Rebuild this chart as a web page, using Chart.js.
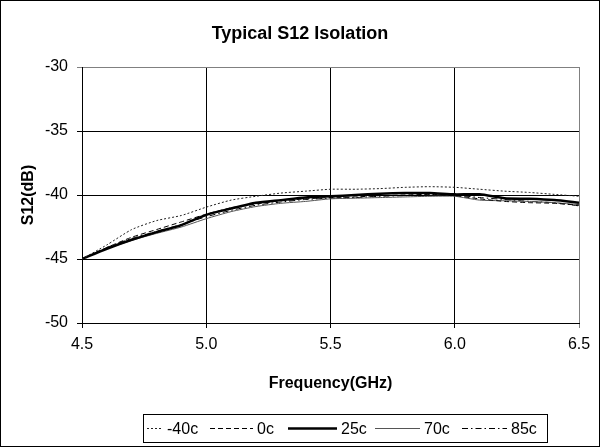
<!DOCTYPE html>
<html>
<head>
<meta charset="utf-8">
<script src="https://cdn.jsdelivr.net/npm/chart.js@4.4.1/dist/chart.umd.min.js"></script>
<style>
  html, body { margin: 0; padding: 0; background: #fff; }
  canvas { display: block; }
</style>
</head>
<body>
<canvas id="chart" width="600" height="447"></canvas>
<script>
// frecuencias (GHz) y curvas S12 (dB)
const freq = [4.5, 4.6, 4.7, 4.8, 4.9, 5.0, 5.1, 5.2, 5.3, 5.4, 5.5, 5.6, 5.7, 5.8, 5.9, 6.0, 6.1, 6.2, 6.3, 6.4, 6.5];
const seriesNames = ['-40c', '0c', '25c', '70c', '85c'];
const sM40 = [-45.0, -43.9, -42.7, -42.0, -41.6, -40.95, -40.4, -40.1, -39.85, -39.7, -39.55, -39.55, -39.5, -39.4, -39.35, -39.4, -39.55, -39.7, -39.8, -39.95, -40.1];
const s0 = [-45.0, -44.1, -43.3, -42.7, -42.1, -41.5, -41.0, -40.7, -40.45, -40.3, -40.2, -40.15, -40.05, -40.0, -39.95, -40.05, -40.3, -40.5, -40.6, -40.65, -40.8];
const s25 = [-45.0, -44.2, -43.5, -42.9, -42.35, -41.55, -41.05, -40.6, -40.4, -40.2, -40.1, -40.0, -39.9, -39.85, -39.85, -39.95, -39.95, -40.25, -40.3, -40.4, -40.6];
const s70 = [-45.0, -44.2, -43.55, -43.0, -42.5, -41.85, -41.3, -40.9, -40.65, -40.5, -40.3, -40.25, -40.2, -40.15, -40.1, -40.1, -40.4, -40.45, -40.5, -40.6, -40.75];
const s85 = [-45.0, -44.1, -43.4, -42.85, -42.3, -41.7, -41.2, -40.8, -40.55, -40.35, -40.25, -40.2, -40.1, -40.05, -40.0, -40.0, -40.2, -40.35, -40.5, -40.6, -40.85];
const xTicks = [4.5, 5.0, 5.5, 6.0, 6.5];
const yTicks = [-50, -45, -40, -35, -30];

const FONT = "'Liberation Sans', Arial, sans-serif";

const puntos = vals => freq.map((f, i) => ({ x: f, y: vals[i] }));

// estilos de linea de cada temperatura
const estilos = [
  { color: '#222', width: 1, dash: [2, 2] },
  { color: '#000', width: 1, dash: [5, 3] },
  { color: '#000', width: 2.5, dash: [] },
  { color: '#555', width: 1, dash: [] },
  { color: '#000', width: 1, dash: [6, 3, 1.5, 3] }
];
const valores = [sM40, s0, s25, s70, s85];

const datasets = seriesNames.map((name, i) => ({
  label: name,
  data: puntos(valores[i]),
  borderColor: estilos[i].color,
  borderWidth: estilos[i].width,
  borderDash: estilos[i].dash,
  pointRadius: 0,
  tension: 0.2,
  fill: false,
  yAxisID: 'y'
}));

// fondo blanco, marco exterior y leyenda con caja
const marcoPlugin = {
  id: 'marco',
  beforeDraw(chart) {
    const ctx = chart.ctx;
    ctx.save();
    ctx.fillStyle = '#fff';
    ctx.fillRect(0, 0, chart.width, chart.height);
    ctx.restore();
  },
  afterDraw(chart) {
    const ctx = chart.ctx;
    ctx.save();
    ctx.strokeStyle = '#000';
    ctx.lineWidth = 1;
    ctx.strokeRect(0.5, 0.5, chart.width - 1, chart.height - 1);

    // leyenda
    ctx.strokeRect(143.5, 414.5, 404, 28);
    const inicio = [147, 210, 288, 375, 462];
    const fin = [163, 253, 337, 420, 507];
    const yMid = 428.5;
    ctx.font = '16px ' + FONT;
    ctx.textBaseline = 'middle';
    ctx.textAlign = 'left';
    chart.data.datasets.forEach((ds, i) => {
      ctx.beginPath();
      ctx.strokeStyle = ds.borderColor;
      ctx.lineWidth = ds.borderWidth;
      ctx.setLineDash(ds.borderDash || []);
      ctx.moveTo(inicio[i], yMid);
      ctx.lineTo(fin[i], yMid);
      ctx.stroke();
      ctx.setLineDash([]);
      ctx.fillStyle = '#000';
      ctx.fillText(ds.label, fin[i] + 4, yMid + 1);
    });
    ctx.restore();
  }
};

new Chart(document.getElementById('chart'), {
  type: 'line',
  data: { datasets: datasets },
  options: {
    responsive: false,
    devicePixelRatio: 1,
    animation: false,
    layout: { padding: { left: 0, right: 0, top: 14, bottom: 0 } },
    plugins: {
      legend: { display: false },
      tooltip: { enabled: false },
      title: {
        display: true,
        text: 'Typical S12 Isolation',
        color: '#000',
        font: { family: FONT, size: 18, weight: 'bold' },
        padding: { top: 9, bottom: 22.4 }
      }
    },
    scales: {
      x: {
        type: 'linear',
        min: 4.5,
        max: 6.5,
        afterBuildTicks: scale => { scale.ticks = xTicks.map(v => ({ value: v })); },
        afterFit: scale => { scale.height = 124; },
        ticks: {
          color: '#000',
          font: { family: FONT, size: 16 },
          padding: 7,
          maxRotation: 0,
          callback: v => Number(v).toFixed(1)
        },
        grid: {
          color: ctx => (ctx.tick && ctx.tick.value === 6.5 ? '#808080' : '#000'),
          lineWidth: 1,
          tickLength: 5
        },
        border: { color: '#000', width: 1 },
        title: {
          display: true,
          text: 'Frequency(GHz)',
          color: '#000',
          font: { family: FONT, size: 16, weight: 'bold' },
          padding: { top: 0, bottom: 54 }
        }
      },
      y: {
        min: -50,
        max: -30,
        afterBuildTicks: scale => { scale.ticks = yTicks.map(v => ({ value: v })); },
        afterFit: scale => { scale.width = 82; },
        ticks: {
          color: '#000',
          font: { family: FONT, size: 16 },
          padding: 9
        },
        grid: {
          color: ctx => (ctx.tick && ctx.tick.value === -30 ? '#808080' : '#000'),
          lineWidth: 1,
          tickLength: 5
        },
        border: { color: '#000', width: 1 },
        title: {
          display: true,
          text: 'S12(dB)',
          color: '#000',
          font: { family: FONT, size: 16, weight: 'bold' },
          padding: { top: 19, bottom: 0 }
        }
      },
      // eje vacio a la derecha: deja el margen sin descentrar el titulo
      margen: {
        position: 'right',
        min: -50,
        max: -30,
        afterFit: scale => { scale.width = 21; },
        ticks: { display: false },
        grid: { display: false, drawOnChartArea: false },
        border: { display: false }
      }
    }
  },
  plugins: [marcoPlugin]
});
</script>
</body>
</html>
